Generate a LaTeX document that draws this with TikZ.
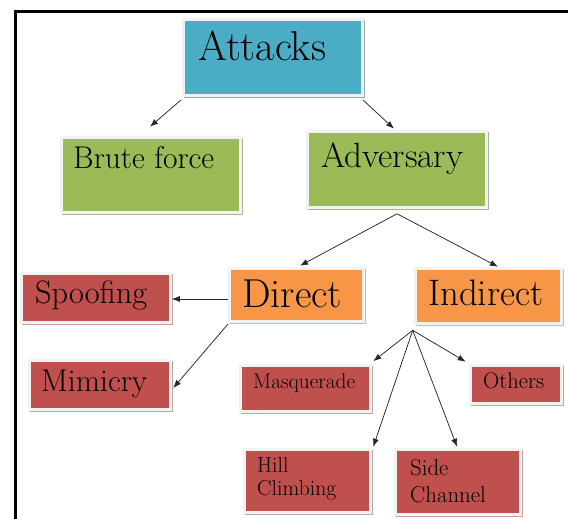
\documentclass[tikz,border=0pt]{standalone}
\usetikzlibrary{arrows.meta,shadows,calc}
\definecolor{cborder}{HTML}{F2F2F2}
\definecolor{cblue}{HTML}{4BACC6}
\definecolor{cblueS}{HTML}{93A9B3}
\definecolor{cgreen}{HTML}{9BBB59}
\definecolor{cgreenS}{HTML}{AAB498}
\definecolor{corange}{HTML}{F79646}
\definecolor{corangeS}{HTML}{D6B79E}
\definecolor{cred}{HTML}{C0504D}
\definecolor{credS}{HTML}{C9A3A2}
\newcommand\fitw[2]{\resizebox{#1pt}{!}{\fontsize{30}{34}\selectfont #2}}
\tikzset{
  boxbase/.style={draw=cborder, line width=2.6pt, inner sep=0pt},
  bluebox/.style={boxbase, fill=cblue, copy shadow={shadow xshift=1.6pt, shadow yshift=-1.6pt, fill=cblueS, draw=cblueS, line width=2.6pt}},
  greenbox/.style={boxbase, fill=cgreen, copy shadow={shadow xshift=1.6pt, shadow yshift=-1.6pt, fill=cgreenS, draw=cgreenS, line width=2.6pt}},
  orangebox/.style={boxbase, fill=corange, copy shadow={shadow xshift=1.6pt, shadow yshift=-1.6pt, fill=corangeS, draw=corangeS, line width=2.6pt}},
  redbox/.style={boxbase, fill=cred, copy shadow={shadow xshift=1.6pt, shadow yshift=-1.6pt, fill=credS, draw=credS, line width=2.6pt}},
  txt/.style={anchor=base west, inner sep=0pt, text=black},
  arr/.style={-{Latex[length=8pt,width=6pt]}, line width=0.75pt, draw=black!85},
  frame/.style={line width=3pt, black}
}
\begin{document}
\begin{tikzpicture}[x=1pt,y=-1pt]
\useasboundingbox (0,0) rectangle (568,519);
% frame
\draw[frame] (13.5,12) -- (568,12);
\draw[frame] (15,12) -- (15,519);
% boxes
\node[bluebox, minimum width=179pt, minimum height=76pt] (attacks) at (273,57.5) {};
\node[greenbox, minimum width=179pt, minimum height=75pt] (brute) at (151,175) {};
\node[greenbox, minimum width=179pt, minimum height=76pt] (adv) at (397,169.5) {};
\node[orangebox, minimum width=134pt, minimum height=53pt] (direct) at (296.5,295) {};
\node[orangebox, minimum width=146pt, minimum height=55pt] (indirect) at (488.5,296) {};
\node[redbox, minimum width=149pt, minimum height=49pt] (spoof) at (96,298) {};
\node[redbox, minimum width=141pt, minimum height=49pt] (mimic) at (100,385) {};
\node[redbox, minimum width=130pt, minimum height=46pt] (masq) at (305.5,388.5) {};
\node[redbox, minimum width=91pt, minimum height=38pt] (others) at (516,384.5) {};
\node[redbox, minimum width=126pt, minimum height=63pt] (hill) at (307.5,481) {};
\node[redbox, minimum width=125pt, minimum height=65pt] (side) at (458,482) {};
% texts
\node[txt] (tattacks) at (198,61) {\fitw{128}{Attacks}};
\node[txt] (tbrute) at (73,168) {\fitw{141}{Brute force}};
\node[txt] (tadv) at (321,167) {\fitw{142}{Adversary}};
\node[txt] (tdirect) at (242,307) {\fitw{100}{Direct}};
\node[txt] (tindirect) at (428,305) {\fitw{115}{Indirect}};
\node[txt] (tspoof) at (35,303) {\fitw{112}{Spoofing}};
\node[txt] (tmimic) at (41,391) {\fitw{106}{Mimicry}};
\node[txt] (tmasq) at (253,388) {\fitw{102}{Masquerade}};
\node[txt] (tothers) at (483,388) {\fitw{61}{Others}};
\node[txt, font=\fontsize{21.7}{26}\selectfont] (thill1) at (257,472) {Hill};
\node[txt, font=\fontsize{21.7}{26}\selectfont] (thill2) at (257,495) {Climbing};
\node[txt, font=\fontsize{22.8}{27}\selectfont] (tside1) at (410,475) {Side};
\node[txt, font=\fontsize{22.8}{27}\selectfont] (tside2) at (410,502) {Channel};
% connectors
\draw[arr] ([xshift=-1pt,yshift=-3pt]attacks.south west) -- ([xshift=-1pt,yshift=9.5pt]brute.north);
\draw[arr] ([xshift=-1pt,yshift=-3pt]attacks.south east) -- ([xshift=-3pt,yshift=1.5pt]adv.north);
\draw[arr] ([yshift=-5pt]adv.south) -- ([xshift=3.5pt,yshift=1.5pt]direct.north);
\draw[arr] ([yshift=-5pt]adv.south) -- ([xshift=9.5pt,yshift=0.5pt]indirect.north);
\draw[arr] ([yshift=-4pt]direct.west) -- ([yshift=-4pt]direct.west -| spoof.east);
\draw[arr] ([yshift=-1pt]direct.south west) -- ([xshift=1.5pt,yshift=-3pt]mimic.east);
\coordinate (fan) at ([xshift=-1.5pt,yshift=-5.5pt]indirect.south west);
\draw[arr] (fan) -- ([xshift=1.5pt,yshift=3pt]masq.north east);
\draw[arr] (fan) -- ([xshift=-3.5pt,yshift=2.5pt]others.north west);
\draw[arr] (fan) -- ([xshift=1.5pt,yshift=1.5pt]hill.north east);
\draw[arr] (fan) -- ([xshift=-1pt,yshift=1.5pt]side.north);
\end{tikzpicture}
\end{document}
